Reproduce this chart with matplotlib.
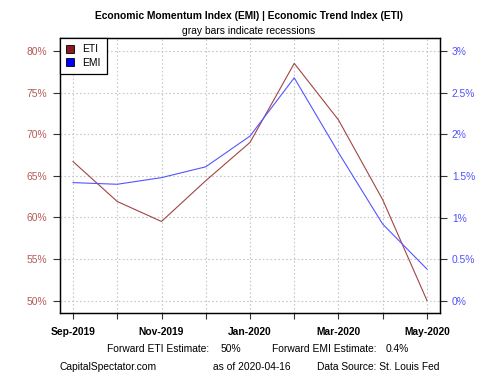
import matplotlib
matplotlib.use("Agg")
import matplotlib.pyplot as plt
from matplotlib.patches import Patch

months = ["Sep-2019", "Oct-2019", "Nov-2019", "Dec-2019", "Jan-2020",
          "Feb-2020", "Mar-2020", "Apr-2020", "May-2020"]
eti = [66.7, 61.9, 59.5, 64.4, 69.0, 78.5, 71.7, 62.1, 50.0]
emi = [1.42, 1.40, 1.48, 1.61, 1.98, 2.68, 1.78, 0.92, 0.38]
left_ticks = [50, 55, 60, 65, 70, 75, 80]
right_ticks = [0, 0.5, 1, 1.5, 2, 2.5, 3]
right_labels = ["0%", "0.5%", "1%", "1.5%", "2%", "2.5%", "3%"]

plt.rcParams['font.family'] = ['Liberation Sans', 'DejaVu Sans']
FS = 7.4
W, H = 500, 375

fig = plt.figure(figsize=(5, 3.75), dpi=100)
ax = fig.add_axes([60 / W, 1 - 313 / H, 380 / W, 275 / H])
x = list(range(len(months)))

eti_col = '#A04545'
emi_col = '#5555FF'
ax.plot(x, eti, color=eti_col, lw=0.8, zorder=3)
ax.set_xlim(-0.294, len(months) - 1 + 0.294)
ax.set_ylim(48.5, 81.55)
ax.set_yticks(left_ticks)
ax.set_yticklabels([f"{v}%" for v in left_ticks], color='#B55A55', fontsize=FS)
ax.set_xticks(x)
ax.set_xticklabels([m if i % 2 == 0 else "" for i, m in enumerate(months)],
                   fontsize=FS, fontweight='bold')
ax.tick_params(axis='y', length=5, width=0.8, color='#333333', pad=4.5)
ax.tick_params(axis='x', length=4.5, width=0.8, color='#333333', pad=5.5)
ax.grid(True, color='#C8C8C8', ls=(0, (1.5, 2)), lw=0.8, zorder=0)
for s in ax.spines.values():
    s.set_linewidth(0.9)
    s.set_color('black')

ax2 = ax.twinx()
ax2.plot(x, emi, color=emi_col, lw=0.8, zorder=3)
ax2.set_ylim(-0.148, 3.159)
ax2.set_yticks(right_ticks)
ax2.set_yticklabels(right_labels, color='#5050FF', fontsize=FS)
ax2.tick_params(axis='y', length=5, width=0.8, color='#333333', pad=3.6)
for s in ax2.spines.values():
    s.set_linewidth(0.9)

handles = [Patch(facecolor='#8B1A1A', edgecolor='black', lw=0.6, label='ETI'),
           Patch(facecolor='#0000FF', edgecolor='black', lw=0.6, label='EMI')]
leg = ax2.legend(handles=handles, loc='upper left', borderaxespad=0,
                 fontsize=FS, handlelength=0.8, handleheight=0.8,
                 fancybox=False, framealpha=1, edgecolor='black',
                 labelspacing=0.35, handletextpad=0.8, borderpad=0.6)
leg.get_frame().set_linewidth(0.9)

fig.text(249 / W, 1 - 15.7 / H, "Economic Momentum Index (EMI) | Economic Trend Index (ETI)",
         ha='center', va='center', fontsize=FS, fontweight='bold')
fig.text(249 / W, 1 - 31 / H, "gray bars indicate recessions",
         ha='center', va='center', fontsize=FS)

y1 = 1 - 349 / H
y2 = 1 - 367 / H
fig.text(106.7 / W, y1, "Forward ETI Estimate:", ha='left', va='center', fontsize=FS)
fig.text(220.7 / W, y1, "50%", ha='left', va='center', fontsize=FS)
fig.text(271.7 / W, y1, "Forward EMI Estimate:", ha='left', va='center', fontsize=FS)
fig.text(385.7 / W, y1, "0.4%", ha='left', va='center', fontsize=FS)
fig.text(60 / W, y2, "CapitalSpectator.com", ha='left', va='center', fontsize=FS)
fig.text(212.7 / W, y2, "as of 2020-04-16", ha='left', va='center', fontsize=FS)
fig.text(317.3 / W, y2, "Data Source: St. Louis Fed", ha='left', va='center', fontsize=FS)

fig.savefig("out.png", dpi=100)
